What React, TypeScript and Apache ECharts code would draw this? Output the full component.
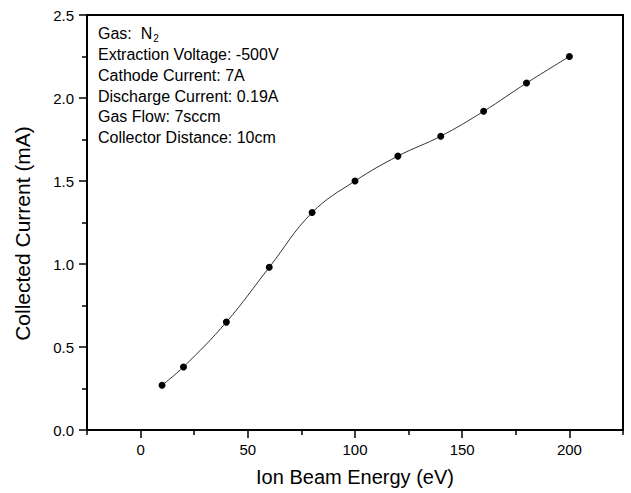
import React, { useEffect, useRef } from "react";
import * as echarts from "echarts";

const energy = [10, 20, 40, 60, 80, 100, 120, 140, 160, 180, 200];
const current = [0.27, 0.38, 0.65, 0.98, 1.31, 1.5, 1.65, 1.77, 1.92, 2.09, 2.25];
const xMajorTicks = [0, 50, 100, 150, 200];
const xMinorTicks = [-25, 25, 75, 125, 175, 225];
const infoLines = [
  "Extraction Voltage: -500V",
  "Cathode Current: 7A",
  "Discharge Current: 0.19A",
  "Gas Flow: 7sccm",
  "Collector Distance: 10cm",
];

export default function App() {
  const ref = useRef<HTMLDivElement>(null);
  useEffect(() => {
    const chart = echarts.init(ref.current!, null, { renderer: "svg" });
    const font = "'Liberation Sans', Arial, sans-serif";
    const data = energy.map((e, i) => [e, current[i]]);
    const infoText =
      "{a|Gas:  N}{sub|2}\n" + infoLines.map((l) => "{a|" + l + "}").join("\n");
    chart.setOption({
      animation: false,
      backgroundColor: "#fff",
      textStyle: { fontFamily: font },
      grid: {
        left: 87,
        right: 8,
        top: 15,
        bottom: 63,
        show: true,
        borderColor: "#000",
        borderWidth: 2,
      },
      xAxis: [
        {
          type: "value",
          min: -25,
          max: 225,
          name: "Ion Beam Energy (eV)",
          nameLocation: "middle",
          nameGap: 37,
          nameTextStyle: { fontSize: 20, color: "#000", fontFamily: font },
          axisLine: { show: true, onZero: false, lineStyle: { color: "#000", width: 2 } },
          axisTick: {
            show: true,
            inside: false,
            length: 8,
            customValues: xMajorTicks,
            lineStyle: { color: "#000", width: 1.5 },
          },
          axisLabel: {
            customValues: xMajorTicks,
            fontSize: 15,
            color: "#000",
            margin: 12,
            fontFamily: font,
          },
          splitLine: { show: false },
        },
        {
          type: "value",
          min: -25,
          max: 225,
          position: "bottom",
          axisLine: { show: false, onZero: false },
          axisTick: {
            show: true,
            inside: false,
            length: 5,
            customValues: xMinorTicks,
            lineStyle: { color: "#000", width: 1.5 },
          },
          axisLabel: { show: false },
          splitLine: { show: false },
        },
      ],
      yAxis: {
        type: "value",
        min: 0,
        max: 2.5,
        interval: 0.5,
        name: "Collected Current (mA)",
        nameLocation: "middle",
        nameGap: 54,
        nameTextStyle: { fontSize: 21, color: "#000", fontFamily: font, padding: [0, 22, 0, 0] },
        axisLine: { show: true, onZero: false, lineStyle: { color: "#000", width: 2 } },
        axisTick: { show: true, length: 8, lineStyle: { color: "#000", width: 1.5 } },
        minorTick: { show: true, splitNumber: 2, length: 5, lineStyle: { color: "#000", width: 1.5 } },
        axisLabel: {
          fontSize: 15,
          color: "#000",
          margin: 13,
          fontFamily: font,
          formatter: (v: number) => v.toFixed(1),
        },
        splitLine: { show: false },
      },
      graphic: [
        {
          type: "text",
          left: 98,
          top: 24,
          style: {
            text: infoText,
            fill: "#000",
            font: "16px " + font,
            rich: {
              a: { fontSize: 16, fontFamily: font, fill: "#000", color: "#000", lineHeight: 20.7 },
              sub: {
                fontSize: 10,
                fontFamily: font,
                fill: "#000",
                color: "#000",
                lineHeight: 20.7,
                padding: [10, 0, 0, 1],
              },
            },
          },
        },
      ],
      series: [
        {
          type: "line",
          xAxisIndex: 0,
          data,
          smooth: 0.4,
          symbol: "circle",
          symbolSize: 7,
          itemStyle: { color: "#000" },
          lineStyle: { color: "#333", width: 1 },
        },
      ],
    });
    return () => chart.dispose();
  }, []);
  return <div ref={ref} style={{ width: 631, height: 493, position: "absolute", left: 0, top: 0 }} />;
}
